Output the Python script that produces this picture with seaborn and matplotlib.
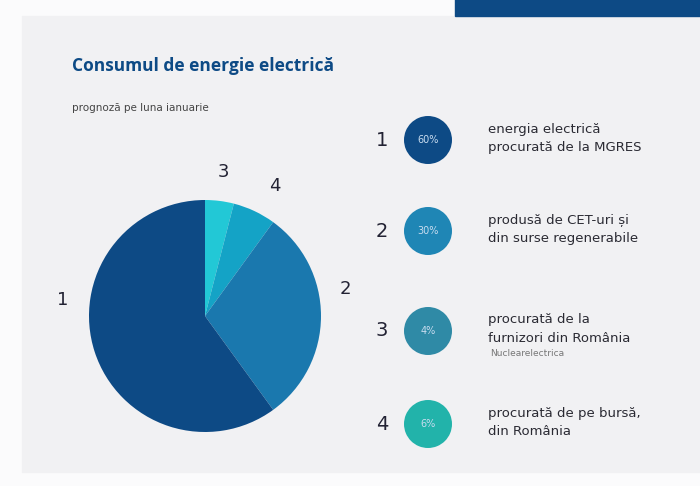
import seaborn as sns
import matplotlib.pyplot as plt
from matplotlib.patches import Rectangle

sns.set_theme(style="white")

# date
numere = ['1', '2', '3', '4']
procente = [60, 30, 4, 6]
etichete_pct = ['60%', '30%', '4%', '6%']
descrieri = ['energia electrică\nprocurată de la MGRES',
             'produsă de CET-uri și\ndin surse regenerabile',
             'procurată de la\nfurnizori din România',
             'procurată de pe bursă,\ndin România']
culori_pie = ['#0d4a85', '#1a78ae', '#22c8d6', '#14a3c6']
culori_cerc = ['#0d4a85', '#1f86b5', '#2f8aa6', '#22b3aa']

W, H = 700, 486
fig = plt.figure(figsize=(7, 4.86), dpi=100)
fig.patch.set_facecolor('#fbfbfc')
fig.add_artist(Rectangle((22 / W, 14 / H), 1, 456 / H, transform=fig.transFigure,
                         color='#f1f1f3', zorder=0))
fig.add_artist(Rectangle((455 / W, 470 / H), 1, 1, transform=fig.transFigure,
                         color='#0d4a85', zorder=0))

fig.text(72 / W, 1 - 66 / H, 'Consumul de energie electrică', fontsize=12.5,
         fontweight='bold', color='#0d4a85', va='center', family='Open Sans')
fig.text(72 / W, 1 - 108 / H, 'prognoză pe luna ianuarie', fontsize=7.5,
         color='#444444', va='center')

# pie: ordinea în sensul acelor de ceasornic de sus: 3, 4, 2, 1
ordine = [2, 3, 1, 0]
cx, cy, r = 205, 316, 116
ax = fig.add_axes([(cx - r) / W, (H - cy - r) / H, 2 * r / W, 2 * r / H])
ax.pie([procente[i] for i in ordine], colors=[culori_pie[i] for i in ordine],
       startangle=90, counterclock=False, wedgeprops={'linewidth': 0})
ax.set_xlim(-1, 1)
ax.set_ylim(-1, 1)
ax.set_aspect('equal')

for txt, (x, y) in zip(numere, [(63, 300), (345, 289), (223, 172), (275, 186)]):
    fig.text(x / W, 1 - y / H, txt, fontsize=13, color='#222233', ha='center', va='center')

# legenda
ys = [140, 231, 331, 424]
for i, y in enumerate(ys):
    fig.text(382 / W, 1 - y / H, numere[i], fontsize=14, color='#222233',
             ha='center', va='center')
    lax = fig.add_axes([(428 - 24) / W, (H - y - 24) / H, 48 / W, 48 / H])
    lax.pie([1], colors=[culori_cerc[i]], wedgeprops={'linewidth': 0})
    lax.set_xlim(-1, 1)
    lax.set_ylim(-1, 1)
    lax.set_aspect('equal')
    fig.text(428 / W, 1 - y / H, etichete_pct[i], fontsize=7, color='#c8dcef',
             ha='center', va='center')
    fig.text(488 / W, 1 - (y - 2) / H, descrieri[i], fontsize=9.5, color='#2a2a33',
             va='center', linespacing=1.5)
fig.text(490 / W, 1 - 353 / H, 'Nuclearelectrica', fontsize=6.5, color='#777777',
         va='center')

fig.savefig('out.png', dpi=100, facecolor=fig.get_facecolor())
